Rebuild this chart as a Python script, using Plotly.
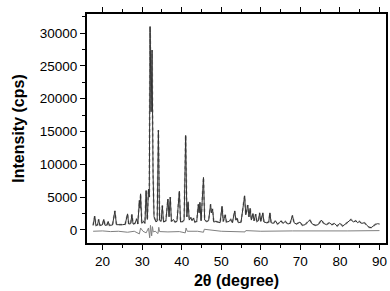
import plotly.graph_objects as go

# ---- data ----
profile_2theta = [17.6, 18.0, 18.3, 18.7, 19.0, 19.3, 19.9, 20.3, 20.6, 21.1, 21.4, 21.7, 22.5, 23.1, 23.5,
                  24.3, 25.0, 25.7, 26.3, 26.6, 27.1, 27.4, 27.7, 28.2, 28.6, 28.9, 29.3, 29.45, 29.6, 29.9,
                  30.4, 30.7, 31.0, 31.3, 31.6, 31.8, 32.0, 32.25, 32.5, 32.75, 33.0, 33.5, 33.8, 34.1, 34.4,
                  34.8, 35.1, 35.4, 36.0, 36.5, 36.8, 37.1, 37.4, 37.9, 38.3, 38.8, 39.4, 39.7, 40.3, 40.6,
                  41.0, 41.3, 41.6, 41.9, 42.3, 42.6, 43.0, 43.3, 43.8, 44.2, 44.4, 44.6, 44.9, 45.5, 45.8,
                  46.3, 46.8, 47.3, 47.5, 47.8, 48.1, 48.6, 49.2, 49.7, 50.2, 50.5, 51.0, 51.3, 52.0, 52.4,
                  52.8, 53.4, 53.7, 54.0, 54.3, 55.0, 55.9, 56.2, 56.7, 57.0, 57.3, 57.6, 58.0, 58.3, 58.7,
                  59.0, 59.4, 59.7, 60.0, 60.5, 60.8, 61.5, 62.0, 62.3, 62.6, 63.2, 63.7, 64.2, 64.7, 65.1,
                  65.6, 66.2, 66.8, 67.4, 68.0, 68.4, 69.0, 69.9, 70.5, 71.2, 71.8, 72.4, 73.0, 73.8, 74.5,
                  75.3, 75.9, 76.6, 77.3, 78.0, 78.6, 79.3, 80.0, 80.7, 81.4, 82.2, 82.8, 83.4, 84.0, 84.5,
                  84.9, 85.5, 86.2, 86.8, 87.4, 87.9, 88.5, 89.0, 89.5, 90.0]
profile_counts = [700, 2100, 700, 750, 1600, 700, 750, 1600, 700, 750, 1300, 700, 750, 2900, 800,
                  750, 800, 850, 2450, 900, 950, 2350, 900, 1000, 1700, 900, 4500, 3300, 5500, 1000,
                  1300, 1000, 6000, 1600, 6200, 5000, 31000, 18000, 27400, 8500, 2000, 1200, 1400, 15200, 1500,
                  1300, 3700, 1200, 1400, 4700, 2000, 5000, 1300, 1600, 1200, 1300, 5900, 1200, 1300, 1500,
                  14400, 2000, 4300, 1500, 1900, 1400, 1800, 1200, 1300, 3900, 2600, 4200, 1400, 8000, 1500,
                  1300, 1400, 3900, 2600, 3200, 1200, 1300, 1200, 1100, 3600, 1300, 2300, 1200, 1300, 1600,
                  1100, 2900, 1500, 1800, 1100, 1200, 5200, 2300, 3800, 2000, 3300, 1500, 2500, 1400, 2400,
                  1300, 1400, 2600, 1300, 2600, 1200, 1100, 1200, 2600, 1100, 1000, 1400, 900, 1100, 1400,
                  1000, 1300, 900, 1000, 2200, 1100, 900, 1200, 700, 800, 1200, 1500, 900, 700, 800,
                  1500, 1000, 800, 1100, 800, 1000, 600, 1000, 600, 900, 1300, 1600, 1200, 1400, 1100,
                  1300, 1000, 1100, 700, 400, 350, 700, 850, 950, 900]

diff_2theta = [17.6, 20.0, 22.0, 24.0, 26.3, 28.0, 29.3, 29.6, 30.2, 31.0, 31.6, 31.9, 32.1, 32.4, 32.6,
               32.8, 33.3, 34.0, 34.2, 34.4, 36.5, 39.4, 40.9, 41.1, 41.4, 44.0, 45.5, 45.7, 50.0, 56.0,
               56.2, 60.0, 68.0, 75.0, 82.0, 90.0]
diff_counts = [-200, -150, -250, -200, -350, -200, -600, 300, -200, -450, 300, -1200, 700, -900, 500,
               -300, -200, -550, 400, -250, -300, -250, -450, 300, -200, -200, -350, 100, -200, -300,
               -100, -200, -150, -200, -150, -100]

x_ticks = [20, 30, 40, 50, 60, 70, 80, 90]
y_ticks = [0, 5000, 10000, 15000, 20000, 25000, 30000]

fig = go.Figure()
fig.add_trace(go.Scatter(x=diff_2theta, y=diff_counts, mode="lines",
                         line=dict(color="#808080", width=1), showlegend=False))
fig.add_trace(go.Scatter(x=profile_2theta, y=profile_counts, mode="lines",
                         line=dict(color="#aaaaaa", width=1.8, dash="dot"), showlegend=False))
fig.add_trace(go.Scatter(x=profile_2theta, y=profile_counts, mode="lines",
                         line=dict(color="#333333", width=1), showlegend=False))

font_family = "Liberation Sans, Arial, sans-serif"
fig.update_layout(
    width=390, height=291,
    margin=dict(l=87, r=2, t=14, b=48),
    plot_bgcolor="white", paper_bgcolor="white",
    font=dict(family=font_family, color="black", size=13),
)
fig.update_xaxes(
    range=[16.05, 91.65], tickvals=x_ticks, ticktext=[str(v) for v in x_ticks],
    showgrid=False, zeroline=False,
    showline=True, linecolor="black", linewidth=2, mirror="allticks",
    ticks="outside", ticklen=5, tickwidth=1, tickcolor="black",
    minor=dict(dtick=5, tick0=0, ticks="outside", ticklen=3, tickwidth=1, tickcolor="black"),
    tickfont=dict(size=13.5),
    title=dict(text="<b>2θ (degree)</b>", font=dict(size=16), standoff=7),
)
fig.update_yaxes(
    range=[-1990, 32900], tickvals=y_ticks, ticktext=[str(v) for v in y_ticks],
    showgrid=False, zeroline=False,
    showline=True, linecolor="black", linewidth=2, mirror=True,
    ticks="outside", ticklen=5, tickwidth=1, tickcolor="black",
    minor=dict(dtick=2500, tick0=0, ticks="outside", ticklen=3, tickwidth=1, tickcolor="black"),
    tickfont=dict(size=13.5),
    title=dict(text="<b>Intensity (cps)</b>", font=dict(size=16), standoff=11),
)

fig.write_html("out.html")
